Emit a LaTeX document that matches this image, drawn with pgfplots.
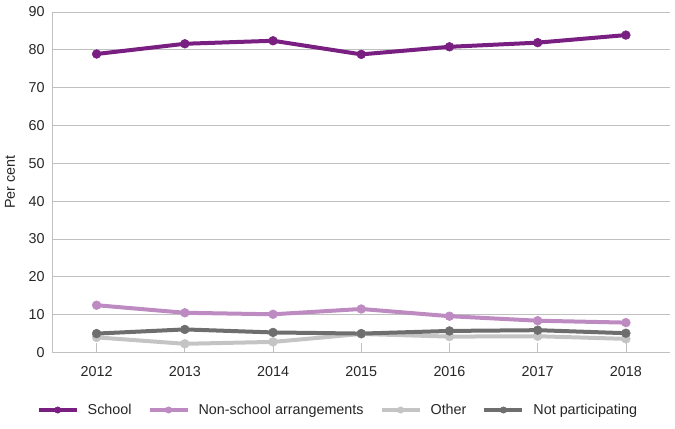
\documentclass[border=0pt]{standalone}
\usepackage{fontspec}
\setmainfont{Liberation Sans}
\usepackage{pgfplots}
\pgfplotsset{compat=1.18}
\definecolor{cSchool}{HTML}{7A1F82}
\definecolor{cNon}{HTML}{BE8AC2}
\definecolor{cOther}{HTML}{C4C4C4}
\definecolor{cNot}{HTML}{6E6E6E}
\definecolor{gridgray}{HTML}{C0C0C0}
\begin{document}
\fontsize{14.4}{17}\selectfont
\begin{tikzpicture}
\begin{axis}[
  at={(52.5bp,76.5bp)}, anchor=south west,
  scale only axis, width=617.5bp, height=340.5bp,
  xmin=2011.5, xmax=2018.5, ymin=0, ymax=90,
  xtick={2012,2013,2014,2015,2016,2017,2018},
  ytick={0,10,20,30,40,50,60,70,80,90},
  /pgf/number format/assume math mode=true,
  /pgf/number format/1000 sep={},
  ymajorgrids, grid style={color=gridgray, line width=0.75bp},
  axis x line*=bottom, axis y line*=left,
  axis line style={gridgray, line width=0.75bp, -},
  tick align=inside, major tick length=9bp,
  ytick style={draw=none},
  xtick style={gridgray, line width=0.75bp},
  tick label style={font=\fontsize{14.4}{17}\selectfont, text=black!85},
  yticklabel style={xshift=-3bp},
  xticklabel style={yshift=-9bp},
  ylabel={Per cent},
  ylabel style={at={(axis description cs:-0.0688,0.5)}, anchor=center, font=\fontsize{14.4}{17}\selectfont, text=black!85},
  legend style={at={(axis description cs:0.4622,-0.1689)}, anchor=center, draw=none, legend columns=4,
    /tikz/every even column/.append style={column sep=14bp},
    font=\fontsize{14.4}{17}\selectfont, text=black!85, cells={anchor=west}},
  legend image code/.code={\draw[mark repeat=2,mark phase=2,#1,mark size=3.2bp] plot coordinates {(0bp,0bp) (19bp,0bp) (38bp,0bp)};
    \path (45bp,0bp);},
  every axis plot/.append style={line width=4bp, mark=*, mark size=4.4bp, mark options={solid, line width=0.5bp}},
]
\addplot[color=cSchool] coordinates {(2012,78.9) (2013,81.6) (2014,82.4) (2015,78.8) (2016,80.8) (2017,81.9) (2018,83.9)};
\addlegendentry{School}
\addplot[color=cNon] coordinates {(2012,12.5) (2013,10.5) (2014,10.1) (2015,11.5) (2016,9.6) (2017,8.4) (2018,7.9)};
\addlegendentry{Non-school arrangements}
\addplot[color=cOther] coordinates {(2012,4.0) (2013,2.3) (2014,2.8) (2015,4.9) (2016,4.2) (2017,4.3) (2018,3.6)};
\addlegendentry{Other}
\addplot[color=cNot] coordinates {(2012,5.0) (2013,6.1) (2014,5.3) (2015,5.0) (2016,5.7) (2017,5.9) (2018,5.1)};
\addlegendentry{Not participating}
\end{axis}
\pgfresetboundingbox
\path (0,0) rectangle (675bp,429bp);
\end{tikzpicture}
\end{document}
